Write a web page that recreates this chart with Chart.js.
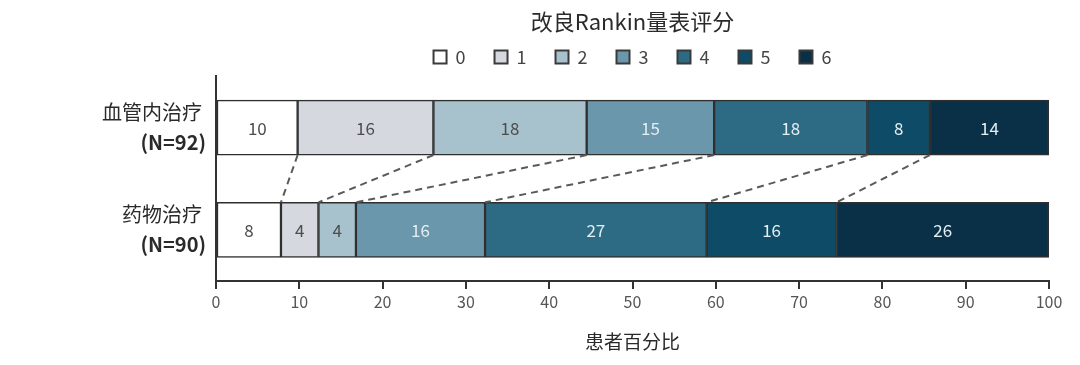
<!DOCTYPE html>
<html>
<head>
<meta charset="utf-8">
<script src="https://cdn.jsdelivr.net/npm/chart.js@4"></script>
<style>
  body { margin: 0; background: #fff; }
  #wrap { width: 1080px; height: 365px; }
</style>
</head>
<body>
<div id="wrap"><canvas id="myChart" width="1080" height="365"></canvas></div>
<script>
'use strict';

// mRS score categories (legend) and the two treatment groups
const scores = ['0', '1', '2', '3', '4', '5', '6'];
const groups = ['血管内治疗', '药物治疗'];
const groupN = ['(N=92)', '(N=90)'];

// bar segment widths (percent of patients)
const endoValues = [9.8, 16.3, 18.4, 15.3, 18.4, 7.5, 14.3];
const medValues = [7.8, 4.5, 4.5, 15.5, 26.6, 15.6, 25.5];
// numbers printed inside the segments
const endoLabels = [10, 16, 18, 15, 18, 8, 14];
const medLabels = [8, 4, 4, 16, 27, 16, 26];

const xTicks = [0, 10, 20, 30, 40, 50, 60, 70, 80, 90, 100];

const colors = ['#ffffff', '#d5d9df', '#a8c2cd', '#6a97ac', '#2d6a84', '#0e4b67', '#0a3048'];
const edge = '#2f2f2f';
const fontFamily = '"Noto Sans CJK SC", "Noto Sans", sans-serif';

const datasets = scores.map((s, i) => ({
	label: s,
	data: [endoValues[i], medValues[i]],
	backgroundColor: colors[i],
	borderColor: edge,
	borderWidth: 1.5,
	borderSkipped: false,
	barThickness: 55,
	stack: 'mrs',
}));

// title + legend centred over the plot area, not the whole canvas
const centerHeader = {
	id: 'centerHeader',
	afterLayout(chart) {
		const a = chart.chartArea;
		if (chart.titleBlock) {
			chart.titleBlock.left = a.left;
			chart.titleBlock.right = a.right;
		}
		if (chart.legend) {
			chart.legend.left = a.left;
			chart.legend.right = a.right;
			chart.legend.top = 19;
			chart.legend.bottom = 75;
		}
	},
};

// numbers inside segments
const segmentLabels = {
	id: 'segmentLabels',
	afterDatasetsDraw(chart) {
		const ctx = chart.ctx;
		const printed = [endoLabels, medLabels];
		ctx.save();
		ctx.font = '17px ' + fontFamily;
		ctx.textAlign = 'center';
		ctx.textBaseline = 'middle';
		chart.data.datasets.forEach((ds, di) => {
			const meta = chart.getDatasetMeta(di);
			meta.data.forEach((bar, row) => {
				const cx = (bar.x + bar.base) / 2;
				ctx.fillStyle = di < 3 ? '#4d4d4d' : '#e4eef3';
				ctx.fillText(String(printed[row][di]), cx, bar.y + 1);
			});
		});
		ctx.restore();
	},
};

// dashed connectors between matching boundaries of the two bars
const connectors = {
	id: 'connectors',
	afterDatasetsDraw(chart) {
		const ctx = chart.ctx;
		const n = chart.data.datasets.length;
		ctx.save();
		ctx.strokeStyle = '#5a5a5a';
		ctx.lineWidth = 2;
		ctx.setLineDash([7, 5]);
		for (let i = 0; i < n - 1; i++) {
			const meta = chart.getDatasetMeta(i);
			const top = meta.data[0];
			const bottom = meta.data[1];
			ctx.beginPath();
			ctx.moveTo(top.x, top.y + top.height / 2);
			ctx.lineTo(bottom.x, bottom.y - bottom.height / 2);
			ctx.stroke();
		}
		ctx.restore();
	},
};

// group names (normal) with N (bold) on the left
const groupLabels = {
	id: 'groupLabels',
	afterDraw(chart) {
		const ctx = chart.ctx;
		const yScale = chart.scales.y;
		const x = chart.chartArea.left - 10;
		ctx.save();
		ctx.fillStyle = '#2a2a2a';
		ctx.textAlign = 'right';
		ctx.textBaseline = 'middle';
		groups.forEach((g, i) => {
			const y = yScale.getPixelForValue(i);
			ctx.font = '20px ' + fontFamily;
			ctx.fillText(g, x - 4, y - 15);
			ctx.font = 'bold 20px ' + fontFamily;
			ctx.fillText(groupN[i], x, y + 15);
		});
		ctx.restore();
	},
};

const ctx = document.getElementById('myChart');

const chart = new Chart(ctx, {
	type: 'bar',
	data: {
		labels: groups,
		datasets: datasets,
	},
	options: {
		indexAxis: 'y',
		responsive: false,
		animation: false,
		layout: {
			padding: { left: 208, right: 31, top: 0, bottom: 12 },
		},
		scales: {
			x: {
				type: 'linear',
				stacked: true,
				min: 0,
				max: 100,
				afterBuildTicks: (scale) => {
					scale.ticks = xTicks.map((v) => ({ value: v }));
				},
				grid: {
					drawOnChartArea: false,
					drawTicks: true,
					tickLength: 8,
					color: '#333',
					lineWidth: 2,
				},
				border: { color: '#333', width: 2 },
				ticks: {
					padding: 3,
					color: '#555',
					font: { family: fontFamily, size: 16 },
				},
				title: {
					display: true,
					text: '患者百分比',
					color: '#2a2a2a',
					font: { family: fontFamily, size: 19 },
					padding: { top: 16, bottom: 0 },
				},
			},
			y: {
				stacked: true,
				grid: { display: false },
				border: { color: '#333', width: 2 },
				ticks: { display: false },
			},
		},
		plugins: {
			title: {
				display: true,
				text: '改良Rankin量表评分',
				color: '#2a2a2a',
				font: { family: fontFamily, size: 22, weight: 'normal' },
				padding: { top: 8, bottom: 0 },
			},
			legend: {
				display: true,
				position: 'top',
				maxHeight: 42,
				labels: {
					boxWidth: 13,
					boxHeight: 13,
					padding: 29,
					color: '#444',
					font: { family: fontFamily, size: 18 },
					generateLabels: (c) =>
						Chart.defaults.plugins.legend.labels.generateLabels(c).map((l) => ({
							...l,
							lineWidth: 2,
							strokeStyle: '#3a3a3a',
						})),
				},
			},
			tooltip: { enabled: false },
		},
	},
	plugins: [centerHeader, segmentLabels, connectors, groupLabels],
});
</script>
</body>
</html>
